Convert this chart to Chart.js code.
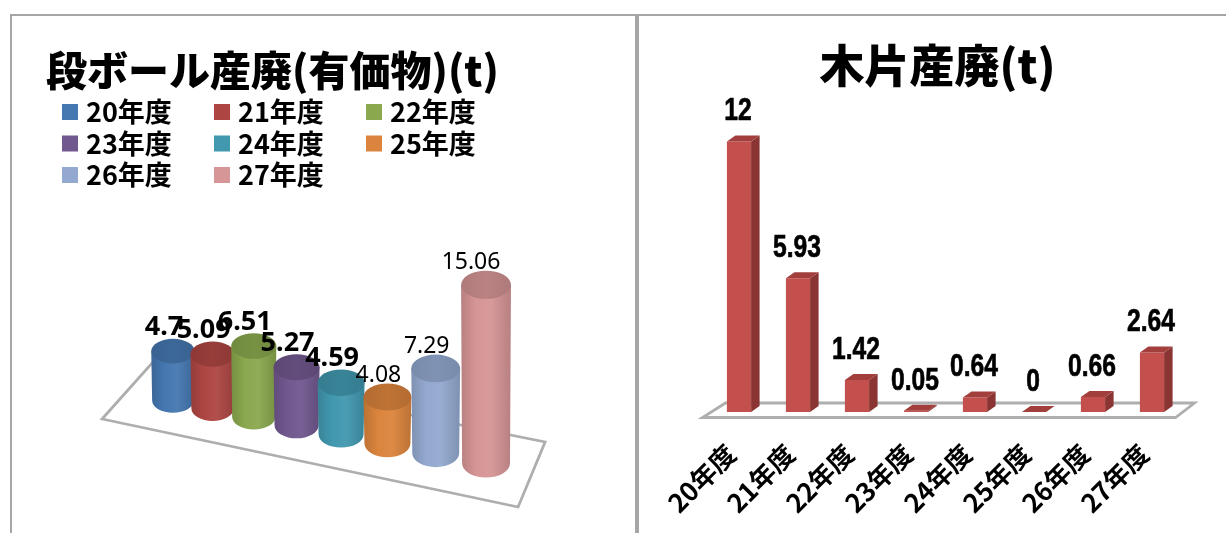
<!DOCTYPE html>
<html lang="ja">
<head>
<meta charset="utf-8">
<script src="https://cdn.jsdelivr.net/npm/chart.js@4/dist/chart.umd.min.js"></script>
<style>
html,body{margin:0;padding:0;background:#fff;width:1226px;height:533px;overflow:hidden}
.panel{position:absolute;top:14px;height:519px;box-sizing:border-box;border-top:2px solid #a6a6a6;background:#fff}
#pl{left:10px;width:627px;border-left:2px solid #a6a6a6;border-right:2px solid #a6a6a6}
#pr{left:637px;width:589px;border-left:2px solid #a6a6a6}
canvas{position:absolute;left:0;top:0}
</style>
</head>
<body>
<div class="panel" id="pl"><canvas id="c1" width="623" height="517"></canvas></div>
<div class="panel" id="pr"><canvas id="c2" width="587" height="517"></canvas></div>
<script>
const categories = ['20年度','21年度','22年度','23年度','24年度','25年度','26年度','27年度'];
const cardboardValues = [4.7,5.09,6.51,5.27,4.59,4.08,7.29,15.06];
const woodValues = [12,5.93,1.42,0.05,0.64,0,0.66,2.64];
const cylinderColors = ['#4577b0','#ad4643','#8aa84e','#71588f','#4198af','#db843d','#93a9cf','#d69596'];
const titleLeft = '段ボール産廃(有価物)(t)';
const titleRight = '木片産廃(t)';
const boldLabelCount = 5;
const CJK = '"Noto Sans CJK JP"';

function shade(hex,f){
  const n=parseInt(hex.slice(1),16);
  const c=[n>>16,(n>>8)&255,n&255].map(v=>Math.max(0,Math.min(255,Math.round(f<1?v*f:v+(255-v)*(f-1)))));
  return `rgb(${c[0]},${c[1]},${c[2]})`;
}

const cylinderPlugin={
  id:'cylinders',
  beforeDatasetsDraw(chart){
    const c=chart.ctx,a=chart.chartArea;
    c.save();
    c.strokeStyle='#aeaeae';c.lineWidth=2.8;c.lineJoin='miter';
    c.beginPath();
    c.moveTo(a.left-48.5,a.bottom+18.5);
    c.lineTo(a.left+367.5,a.bottom+106.5);
    c.lineTo(a.left+394.5,a.bottom+41.5);
    c.lineTo(a.left+1.5,a.bottom-37.5);
    c.closePath();c.stroke();
    c.restore();
  },
  afterDatasetsDraw(chart){
    const c=chart.ctx,meta=chart.getDatasetMeta(0).data;
    const x0=meta[0].x,span=meta[meta.length-1].x-x0;
    const b=0.13;
    const project=el=>{
      const t=(el.x-x0)/span,p=1/(1-b*t);
      const x=x0+span*(1-b)*t*p;
      const base=el.base+(x-x0)*0.201;
      return {x,base,p,top:base-(el.base-el.y)*(1+0.86*(p-1))};
    };
    meta.forEach((el,i)=>{
      const g=project(el),rx=21.7*g.p,ry=12.3*g.p,col=cylinderColors[i];
      const grad=c.createLinearGradient(g.x-rx,0,g.x+rx,0);
      grad.addColorStop(0,shade(col,0.86));
      grad.addColorStop(0.3,col);
      grad.addColorStop(0.6,shade(col,1.05));
      grad.addColorStop(1,shade(col,0.86));
      c.fillStyle=grad;
      c.beginPath();
      c.ellipse(g.x,g.base,rx*0.96,ry,0,0,Math.PI);
      c.lineTo(g.x-rx,g.top);
      c.lineTo(g.x+rx,g.top);
      c.closePath();c.fill();
      const tg=c.createLinearGradient(g.x-rx,0,g.x+rx,0);
      tg.addColorStop(0,shade(col,0.82));
      tg.addColorStop(0.5,shade(col,0.87));
      tg.addColorStop(1,shade(col,0.82));
      c.fillStyle=tg;
      c.beginPath();c.ellipse(g.x,g.top,rx,ry,0,0,Math.PI*2);c.fill();
    });
    c.fillStyle='#000';c.textAlign='center';c.textBaseline='middle';
    meta.forEach((el,i)=>{
      const g=project(el),bold=i<boldLabelCount,txt=String(cardboardValues[i]);
      c.font=bold?'bold 27px "Noto Sans"':'23px "Noto Sans"';
      c.fillText(txt,g.x-(txt.length>4?15:9),g.top-(bold?24:22));
    });
  },
  afterDraw(chart){
    const c=chart.ctx;
    c.save();
    c.textAlign='left';c.textBaseline='middle';c.font=`bold 27px ${CJK}`;
    categories.forEach((name,i)=>{
      const col=i%3,row=Math.floor(i/3);
      const x=50+col*152,y=96+row*31.5;
      c.fillStyle=cylinderColors[i];
      c.fillRect(x,y-8,16,16);
      c.fillStyle='#000';
      c.fillText(name,x+24,y);
    });
    c.restore();
  }
};

const depth={dx:8.5,dy:6};
const barPlugin={
  id:'bars3d',
  beforeDatasetsDraw(chart){
    const c=chart.ctx,a=chart.chartArea;
    c.save();
    c.strokeStyle='#aeaeae';c.lineWidth=2.8;
    c.beginPath();
    c.moveTo(a.left-7,a.bottom+5.5);
    c.lineTo(a.right-6,a.bottom+5.5);
    c.lineTo(a.right+13,a.bottom-9);
    c.lineTo(a.left+16,a.bottom-9);
    c.closePath();c.stroke();
    c.restore();
  },
  afterDatasetsDraw(chart){
    const c=chart.ctx,meta=chart.getDatasetMeta(0).data;
    meta.forEach(el=>{
      const l=el.x-el.width/2,r=el.x+el.width/2,t=el.y,bt=el.base;
      c.fillStyle='#8a3533';
      c.beginPath();c.moveTo(r,t);c.lineTo(r+depth.dx,t-depth.dy);c.lineTo(r+depth.dx,bt-depth.dy);c.lineTo(r,bt);c.closePath();c.fill();
      c.fillStyle='#a23f3c';
      c.beginPath();c.moveTo(l,t);c.lineTo(l+depth.dx,t-depth.dy);c.lineTo(r+depth.dx,t-depth.dy);c.lineTo(r,t);c.closePath();c.fill();
    });
    c.fillStyle='#000';c.strokeStyle='#000';c.lineWidth=0.7;c.textAlign='center';c.textBaseline='middle';
    c.font='bold 32px "Liberation Sans"';
    meta.forEach((el,i)=>{
      c.save();
      c.translate(el.x-1,el.y-30);
      c.scale(0.77,1);
      c.fillText(String(woodValues[i]),0,0);
      c.strokeText(String(woodValues[i]),0,0);
      c.restore();
    });
  }
};

const hiddenY=(max,w)=>({min:0,max,display:true,ticks:{display:false},grid:{display:false},border:{display:false},afterFit(s){s.width=w;}});
const titleFont=size=>({family:CJK,size,weight:'900',lineHeight:1.2});

new Chart(document.getElementById('c1'),{
  type:'bar',
  data:{labels:categories,datasets:[{label:titleLeft,data:cardboardValues,backgroundColor:'rgba(0,0,0,0)',categoryPercentage:1,barPercentage:1}]},
  options:{
    responsive:false,animation:false,
    layout:{padding:{left:24.6,right:126.6,top:0,bottom:132.5}},
    plugins:{legend:{display:false},tooltip:{enabled:false},
      title:{display:true,text:titleLeft,color:'#000',font:titleFont(41),padding:{top:30,bottom:137.2}}},
    scales:{x:{display:false},y:hiddenY(16,114)}
  },
  plugins:[cylinderPlugin]
});

new Chart(document.getElementById('c2'),{
  type:'bar',
  data:{labels:categories,datasets:[{label:titleRight,data:woodValues,backgroundColor:'#c4504d',categoryPercentage:1,barPercentage:0.41}]},
  options:{
    responsive:false,animation:false,
    layout:{padding:{left:54.5,right:44.5,top:0,bottom:0}},
    plugins:{legend:{display:false},tooltip:{enabled:false},
      title:{display:true,text:titleRight,color:'#000',font:titleFont(45),padding:{top:23,bottom:7.8}}},
    scales:{
      x:{offset:true,grid:{display:false},border:{display:false},
        ticks:{autoSkip:false,minRotation:45,maxRotation:45,color:'#000',padding:18,labelOffset:-8,font:{family:CJK,size:26,weight:'bold'}},
        afterFit(s){s.height=121;}},
      y:hiddenY(13.8,16)
    }
  },
  plugins:[barPlugin]
});
</script>
</body>
</html>
